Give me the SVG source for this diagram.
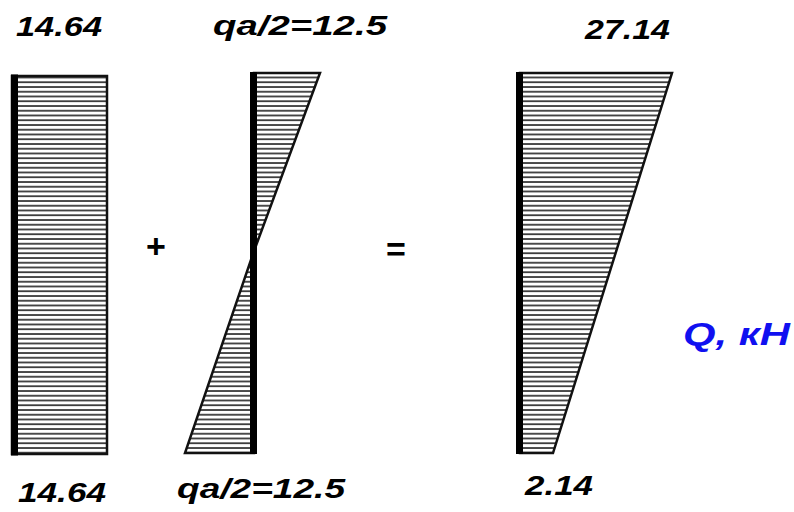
<svg xmlns="http://www.w3.org/2000/svg" width="794" height="512" viewBox="0 0 794 512">
<style>
.lbl{font-family:"Liberation Sans",Arial,sans-serif;font-weight:bold;font-style:italic;font-size:28px;fill:#000}
.op{font-family:"Liberation Sans",Arial,sans-serif;font-weight:bold;font-size:34px;fill:#000}
.unit{font-family:"Liberation Sans",Arial,sans-serif;font-weight:bold;font-style:italic;font-size:32px;fill:#1010f0}
.hatch{fill:url(#h);stroke:#111;stroke-width:2.5;stroke-linejoin:miter}
.axis{stroke:#000;stroke-width:7;fill:none}
</style>
<defs>
<pattern id="h" patternUnits="userSpaceOnUse" x="0" y="0.5" width="10" height="4.75">
<rect width="10" height="4.75" fill="#fff"/>
<line x1="0" y1="1" x2="10" y2="1" stroke="#222" stroke-width="1.6"/>
</pattern>
</defs>
<rect width="794" height="512" fill="#fff"/>
<g id="diagram-left">
<rect class="hatch" x="12" y="76" width="95" height="378"/>
<line class="axis" x1="14.5" y1="74.5" x2="14.5" y2="455.5"/>
</g>
<g id="diagram-middle">
<polygon class="hatch" points="254,73 320,73 254,251"/>
<polygon class="hatch" points="254,251 254,453 185,453"/>
<line class="axis" x1="253.5" y1="72" x2="253.5" y2="454"/>
</g>
<g id="diagram-right">
<polygon class="hatch" points="520,73 672,73 553,453 520,453"/>
<line class="axis" x1="519.5" y1="72" x2="519.5" y2="454"/>
</g>
<g id="connectors"></g>
<g id="labels">
<text class="lbl" x="16" y="36" textLength="86" lengthAdjust="spacingAndGlyphs">14.64</text>
<text class="lbl" x="213" y="35" textLength="174" lengthAdjust="spacingAndGlyphs">qa/2=12.5</text>
<text class="lbl" x="585" y="39" textLength="85" lengthAdjust="spacingAndGlyphs">27.14</text>
<text class="lbl" x="18" y="502" textLength="88" lengthAdjust="spacingAndGlyphs">14.64</text>
<text class="lbl" x="177" y="498" textLength="168" lengthAdjust="spacingAndGlyphs">qa/2=12.5</text>
<text class="lbl" x="525" y="495" textLength="68" lengthAdjust="spacingAndGlyphs">2.14</text>
<text class="unit" x="683" y="345" textLength="107" lengthAdjust="spacingAndGlyphs">Q, кН</text>
<text class="op" x="146" y="258">+</text>
<text class="op" x="386" y="261">=</text>
</g>
</svg>
